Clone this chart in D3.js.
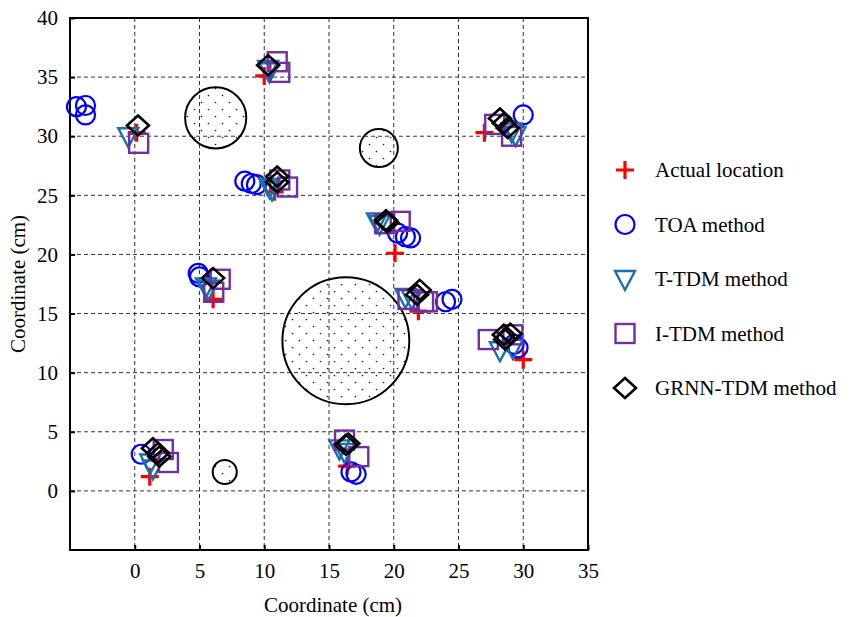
<!DOCTYPE html>
<html>
<head>
<meta charset="utf-8">
<script src="https://cdn.jsdelivr.net/npm/d3@7"></script>
<style>
  body { margin: 0; background: #fff; }
  svg { display: block; }
  svg text { font-family: "Liberation Serif", "Times New Roman", serif; }
</style>
</head>
<body>
<svg id="chart" width="854" height="617"></svg>
<script>
// Tick labels
const xTicks = [0, 5, 10, 15, 20, 25, 30, 35];
const yTicks = [0, 5, 10, 15, 20, 25, 30, 35, 40];

// Obstacles: centre x, centre y, radius (cm)
const obstacles = [
  [16.3, 12.7, 4.9],
  [6.25, 31.55, 2.36],
  [18.85, 29.0, 1.47],
  [6.95, 1.6, 0.93]
];

// Actual source locations
const actual = [
  [0.15, 30.3], [10.0, 35.1], [10.8, 25.3], [20.1, 20.1], [27.0, 30.3],
  [6.05, 16.2], [21.9, 15.2], [30.0, 11.1], [1.16, 1.2], [16.4, 2.1]
];

// TOA method estimates
const toa = [
  [-4.5, 32.5], [-3.8, 32.6], [-3.8, 31.8],
  [8.5, 26.2], [9.0, 26.0], [9.4, 25.9],
  [20.3, 21.8], [20.9, 21.5], [21.3, 21.4],
  [30.0, 31.8],
  [4.9, 18.4], [5.0, 18.1],
  [24.0, 16.0], [24.5, 16.2],
  [29.3, 12.4], [29.6, 12.1],
  [0.5, 3.1],
  [16.7, 1.6], [17.1, 1.4]
];

// T-TDM method estimates
const ttdm = [
  [-0.5, 30.0],
  [10.3, 35.7], [10.4, 35.5],
  [10.4, 25.7], [10.6, 25.5],
  [18.7, 22.8], [18.9, 22.6],
  [29.4, 30.1], [29.1, 30.4],
  [5.5, 17.3], [5.7, 17.1],
  [20.9, 16.4], [21.4, 16.3],
  [28.2, 11.9], [29.2, 12.1],
  [1.2, 2.4], [1.4, 1.9],
  [15.8, 3.6], [16.2, 3.3]
];

// I-TDM method estimates
const itdm = [
  [0.3, 29.4],
  [11.0, 36.3], [11.2, 35.4],
  [11.2, 26.3], [11.8, 25.7],
  [19.3, 22.6], [20.5, 22.8],
  [27.8, 31.0], [29.1, 30.0],
  [6.6, 17.9], [6.1, 16.8],
  [21.1, 16.2], [22.3, 16.0], [22.6, 16.0],
  [27.3, 12.8], [29.2, 13.2],
  [2.2, 3.5], [2.6, 2.4],
  [16.2, 4.3], [17.3, 2.9]
];

// GRNN-TDM method estimates
const grnn = [
  [0.25, 30.9],
  [10.3, 36.0],
  [11.0, 26.6], [11.0, 26.1],
  [19.4, 22.9], [19.5, 22.7],
  [28.2, 31.5], [28.5, 31.1], [28.8, 30.7],
  [6.05, 18.0],
  [22.0, 17.0], [21.8, 16.6],
  [28.5, 13.2], [29.0, 13.3], [28.6, 12.8],
  [1.4, 3.6], [1.8, 3.2], [1.9, 2.9],
  [16.5, 4.0], [16.3, 3.9]
];

const legendLabels = ["Actual location", "TOA method", "T-TDM method", "I-TDM method", "GRNN-TDM method"];

const colors = {
  actual: "#ff0000",
  toa: "#0000ff",
  ttdm: "#1a6fae",
  itdm: "#7030a0",
  grnn: "#000000"
};

const FONT = "'Liberation Serif', 'Times New Roman', serif";
const FS = 21;

const svg = d3.select("#chart");
const plot = { left: 70, right: 588, top: 18, bottom: 550 };

const x = d3.scaleLinear().domain([-5, 35]).range([plot.left, plot.right]);
const y = d3.scaleLinear().domain([-5, 40]).range([plot.bottom, plot.top]);

// Staggered dot fill for obstacles
const defs = svg.append("defs");
const pat = defs.append("pattern")
  .attr("id", "dots")
  .attr("patternUnits", "userSpaceOnUse")
  .attr("width", 14).attr("height", 14)
  .attr("x", 2).attr("y", 1);
pat.append("circle").attr("cx", 3.5).attr("cy", 3.5).attr("r", 0.85).attr("fill", "#222");
pat.append("circle").attr("cx", 10.5).attr("cy", 10.5).attr("r", 0.85).attr("fill", "#222");

// Grid
const grid = svg.append("g");
grid.selectAll("line.vx").data(xTicks.filter(d => d < 35)).join("line")
  .attr("x1", d => x(d)).attr("x2", d => x(d))
  .attr("y1", plot.top).attr("y2", plot.bottom)
  .attr("stroke", "#333").attr("stroke-width", 1).attr("stroke-dasharray", "4,3");
grid.selectAll("line.hy").data(yTicks.filter(d => d < 40)).join("line")
  .attr("x1", plot.left).attr("x2", plot.right)
  .attr("y1", d => y(d)).attr("y2", d => y(d))
  .attr("stroke", "#333").attr("stroke-width", 1).attr("stroke-dasharray", "4,3");

// Axes
const xAxis = svg.append("g")
  .attr("transform", `translate(0,${plot.bottom})`)
  .call(d3.axisBottom(x).tickValues(xTicks).tickSizeInner(-5).tickSizeOuter(0).tickPadding(13));
const yAxis = svg.append("g")
  .attr("transform", `translate(${plot.left},0)`)
  .call(d3.axisLeft(y).tickValues(yTicks).tickSizeInner(-5).tickSizeOuter(0).tickPadding(12));
[xAxis, yAxis].forEach(a => {
  a.attr("font-family", FONT).attr("font-size", FS);
  a.select(".domain").remove();
  a.selectAll(".tick line").attr("stroke", "#000").attr("stroke-width", 2);
  a.selectAll(".tick text").attr("fill", "#000");
});

// Frame
svg.append("rect")
  .attr("x", plot.left).attr("y", plot.top)
  .attr("width", plot.right - plot.left).attr("height", plot.bottom - plot.top)
  .attr("fill", "none").attr("stroke", "#000").attr("stroke-width", 2);

// Obstacles
const pxPerUnit = x(1) - x(0);
svg.append("g").selectAll("circle").data(obstacles).join("circle")
  .attr("cx", d => x(d[0])).attr("cy", d => y(d[1]))
  .attr("r", d => d[2] * pxPerUnit)
  .attr("fill", "url(#dots)")
  .attr("stroke", "#000").attr("stroke-width", 2);

// Marker shapes
const shapes = {
  actual: (g) => g.append("path").attr("d", "M-9,0H9M0,-9V9")
    .attr("stroke", colors.actual).attr("stroke-width", 3.2).attr("fill", "none"),
  toa: (g) => g.append("circle").attr("r", 9.5)
    .attr("stroke", colors.toa).attr("stroke-width", 2.2).attr("fill", "none"),
  ttdm: (g) => g.append("path").attr("d", "M-10,-8L10,-8L0,11Z")
    .attr("stroke", colors.ttdm).attr("stroke-width", 2.4).attr("fill", "none")
    .attr("stroke-linejoin", "miter"),
  itdm: (g) => g.append("rect").attr("x", -9.5).attr("y", -9.5).attr("width", 19).attr("height", 19)
    .attr("stroke", colors.itdm).attr("stroke-width", 2.4).attr("fill", "none"),
  grnn: (g) => g.append("path").attr("d", "M0,-10L11,0L0,10L-11,0Z")
    .attr("stroke", colors.grnn).attr("stroke-width", 2.6).attr("fill", "none")
};

const series = [
  ["actual", actual], ["toa", toa], ["ttdm", ttdm], ["itdm", itdm], ["grnn", grnn]
];
const marks = svg.append("g");
series.forEach(([key, data]) => {
  marks.append("g").attr("class", key).selectAll("g").data(data).join("g")
    .attr("transform", d => `translate(${x(d[0])},${y(d[1])})`)
    .each(function () { shapes[key](d3.select(this)); });
});

// Legend
const legend = svg.append("g").attr("transform", "translate(625,170)")
  .attr("font-family", FONT).attr("font-size", FS);
series.forEach(([key], i) => {
  const row = legend.append("g").attr("transform", `translate(0,${i * 54.5})`);
  shapes[key](row);
  row.append("text").attr("x", 30).attr("y", 7)
    .attr("fill", "#000").text(legendLabels[i]);
});

// Axis titles
svg.append("text").attr("x", (plot.left + plot.right) / 2 + 4).attr("y", 612)
  .attr("text-anchor", "middle").attr("font-family", FONT).attr("font-size", FS)
  .text("Coordinate (cm)");
svg.append("text")
  .attr("transform", `translate(25,${(plot.top + plot.bottom) / 2}) rotate(-90)`)
  .attr("text-anchor", "middle").attr("font-family", FONT).attr("font-size", FS)
  .text("Coordinate (cm)");
</script>
</body>
</html>
